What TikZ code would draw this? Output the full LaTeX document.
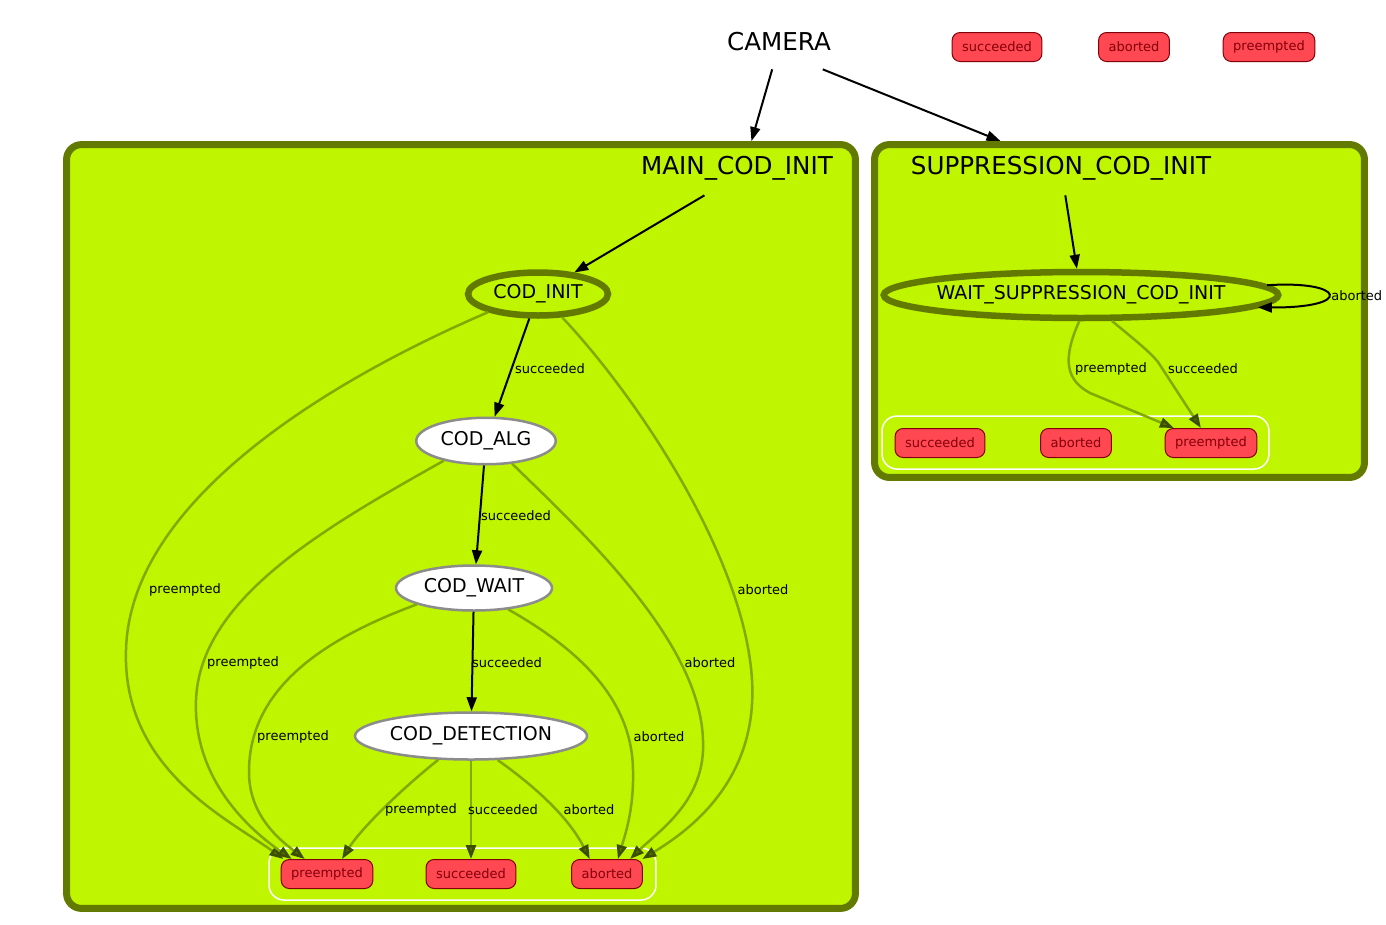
\documentclass[tikz,border=0pt]{standalone}
\usepackage{fontspec}
\setmainfont{DejaVu Sans}
\usetikzlibrary{shapes.geometric,arrows.meta}

\definecolor{limefill}{RGB}{192,245,0}
\definecolor{olivedark}{RGB}{99,122,0}
\definecolor{oliveline}{RGB}{128,170,0}
\definecolor{tipfill}{RGB}{84,108,0}
\definecolor{tipline}{RGB}{60,78,0}
\definecolor{outfill}{RGB}{255,72,82}
\definecolor{outline}{RGB}{130,0,10}

\begin{document}
\begin{tikzpicture}[x=0.02cm, y=-0.02cm,
    cluster/.style={draw=olivedark, fill=limefill, line width=0.14cm, rounded corners=0.3cm, inner sep=0pt},
    clusterlabel/.style={font=\fontsize{14}{17}\selectfont, minimum height=1.08cm, inner sep=0pt},
    active/.style={ellipse, draw=olivedark, fill=limefill, line width=0.13cm, font=\fontsize{10.8}{13}\selectfont, inner sep=0pt},
    state/.style={ellipse, draw=gray!90, fill=white, line width=0.05cm, font=\fontsize{10.8}{13}\selectfont, inner sep=0pt},
    outcome/.style={rectangle, rounded corners=0.16cm, draw=outline, fill=outfill, text=outline, font=\fontsize{7.4}{9}\selectfont, minimum height=0.58cm, inner xsep=0.2cm, line width=0.02cm},
    outbox/.style={draw=white, rounded corners=0.3cm, line width=0.03cm, inner sep=0pt},
    trans/.style={draw=black, line width=0.04cm, -{Triangle[length=0.28cm,width=0.2cm]}},
    outtrans/.style={draw=oliveline, line width=0.05cm, -{Triangle[length=0.28cm,width=0.2cm,fill=tipfill,color=tipline]}},
    lbl/.style={font=\fontsize{7.4}{9}\selectfont, inner sep=0pt}]

      \useasboundingbox (0,0) rectangle (1386,924);

      % containers
      \node (MAIN) [cluster, minimum width=15.78cm, minimum height=15.28cm] at (461,526.5) {};
      \node (SUPP) [cluster, minimum width=9.8cm, minimum height=6.66cm] at (1119.5,311) {};
      \node (OUTL) [outbox, minimum width=7.74cm, minimum height=1.04cm] at (462.5,874) {};
      \node (OUTR) [outbox, minimum width=7.74cm, minimum height=1.06cm] at (1075.5,442.5) {};

      % top level
      \node (CAMERA) [clusterlabel] at (779,42) {CAMERA};
      \node (TSUC) [outcome] at (997,47)  {succeeded};
      \node (TABO) [outcome] at (1134,47) {aborted};
      \node (TPRE) [outcome] at (1269,47) {preempted};

      \node (MAINLBL) [clusterlabel] at (737,168)  {MAIN\_COD\_INIT};
      \node (SUPPLBL) [clusterlabel] at (1061,168) {SUPPRESSION\_COD\_INIT};

      % states
      \node (CODINIT) [active, minimum width=2.8cm, minimum height=0.86cm] at (538,294) {COD\_INIT};
      \node (CODALG)  [state, minimum width=2.79cm, minimum height=0.93cm] at (486,441) {COD\_ALG};
      \node (CODWAIT) [state, minimum width=3.12cm, minimum height=0.9cm]  at (474,588) {COD\_WAIT};
      \node (CODDET)  [state, minimum width=4.64cm, minimum height=0.94cm] at (471,736) {COD\_DETECTION};
      \node (WAITSUP) [active, inner xsep=-0.1cm, minimum width=7.88cm, minimum height=0.92cm] at (1081,295) {WAIT\_SUPPRESSION\_COD\_INIT};

      % outcomes
      \node (PRE)  [outcome] at (327,874)  {preempted};
      \node (SUC)  [outcome] at (471,874)  {succeeded};
      \node (ABO)  [outcome] at (607,874)  {aborted};
      \node (SUC2) [outcome] at (940,443)  {succeeded};
      \node (ABO2) [outcome] at (1076,443) {aborted};
      \node (PRE2) [outcome] at (1211,443) {preempted};

      % black transitions
      \path (CAMERA.-104) edge [trans] (MAIN.53.8);
      \path (CAMERA.-32) edge [trans] (SUPP.125.7);
      \path (MAINLBL.220) edge [trans] (CODINIT);
      \path (SUPPLBL) edge [trans] (WAITSUP);
      \path (CODINIT) edge [trans] (CODALG);
      \path (CODALG) edge [trans] (CODWAIT);
      \path (CODWAIT) edge [trans] (CODDET);
      \draw [trans] (WAITSUP.3) .. controls (1345,280) and (1355,308) .. (WAITSUP.-4);

      % outcome transitions
      \draw [outtrans] (CODINIT.200) .. controls (330,380) and (130,500) .. (126,650)
                       .. controls (122,770) and (230,820) .. (PRE.161);
      \draw [outtrans] (CODINIT.316) .. controls (640,400) and (745,560) .. (752,680)
                       .. controls (758,780) and (690,830) .. (ABO.23);
      \draw [outtrans] (CODALG.205) .. controls (320,530) and (200,600) .. (196,700)
                       .. controls (193,780) and (250,830) .. (PRE.157);
      \draw [outtrans] (CODALG.319) .. controls (580,530) and (700,640) .. (703,740)
                       .. controls (706,800) and (660,830) .. (ABO.33);
      \draw [outtrans] (CODWAIT.196) .. controls (320,640) and (250,690) .. (249,770)
                       .. controls (248,815) and (280,840) .. (PRE.146);
      \draw [outtrans] (CODWAIT.328) .. controls (580,650) and (632,700) .. (633,770)
                       .. controls (634,810) and (625,835) .. (ABO.54);
      \draw [outtrans] (CODDET.216) .. controls (400,790) and (360,830) .. (PRE.45);
      \path (CODDET) edge [outtrans] (SUC);
      \draw [outtrans] (CODDET.318) .. controls (540,790) and (570,820) .. (ABO.139);
      \draw [outtrans] (WAITSUP.266) .. controls (1062,360) and (1066,380) .. (1090,393) -- (PRE2.158);
      \draw [outtrans] (WAITSUP.320) .. controls (1135,340) and (1150,352) .. (1158,362) -- (PRE2.124);

      % transition labels
      \draw (550,369) node (L1)  [lbl] {succeeded}
            (516,516) node (L2)  [lbl] {succeeded}
            (507,663) node (L3)  [lbl] {succeeded}
            (185,590) node (L4)  [lbl] {preempted}
            (243,663) node (L5)  [lbl] {preempted}
            (293,737) node (L6)  [lbl] {preempted}
            (763,590) node (L7)  [lbl] {aborted}
            (710,663) node (L8)  [lbl] {aborted}
            (659,737) node (L9)  [lbl] {aborted}
            (421,810) node (L10) [lbl] {preempted}
            (503,810) node (L11) [lbl] {succeeded}
            (589,810) node (L12) [lbl] {aborted}
            (1111,369) node (L13) [lbl] {preempted}
            (1203,369) node (L14) [lbl] {succeeded}
            (1331,296) node (L15) [lbl, anchor=west] {aborted};
    \end{tikzpicture}
\end{document}
